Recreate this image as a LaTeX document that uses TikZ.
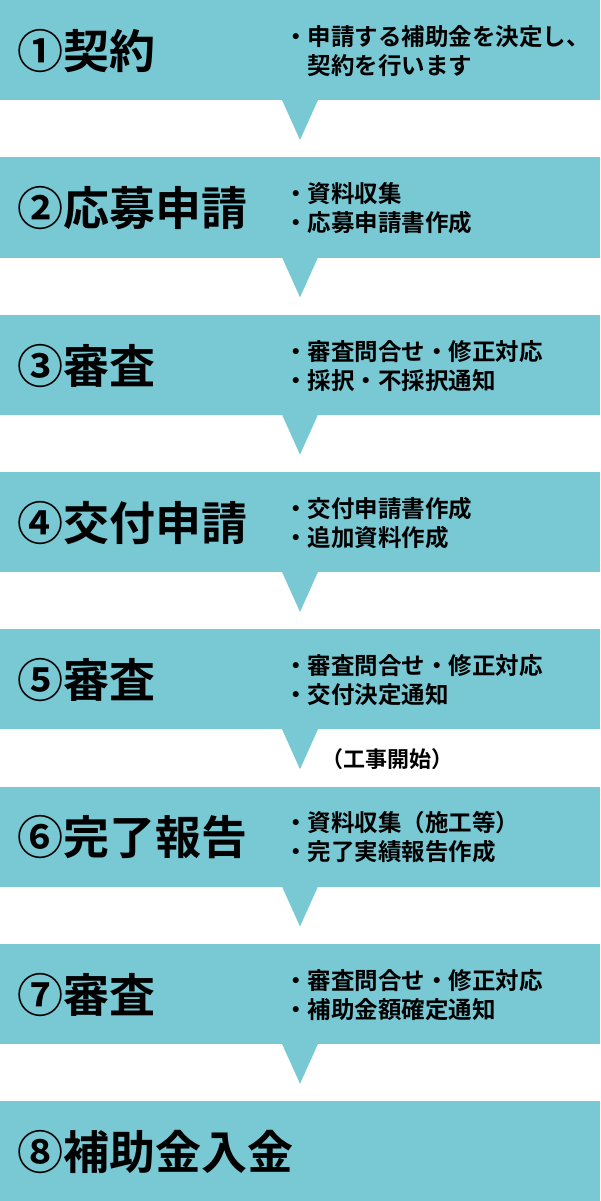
\documentclass[tikz,border=0pt]{standalone}
\usepackage{fontspec}
\setmainfont{Noto Sans CJK JP}[BoldFont=* Bold]
\usetikzlibrary{positioning}
\definecolor{bandblue}{RGB}{121,201,212}

\begin{document}
\begin{tikzpicture}[x=1pt, y=-1pt,
                band/.style={fill=bandblue, draw=none, minimum width=600pt, minimum height=100pt, inner sep=0pt, anchor=north west},
                title/.style={anchor=west, font=\fontsize{46}{48}\selectfont\bfseries},
                notes/.style={anchor=west, align=left, font=\fontsize{23.5}{29}\selectfont\bfseries, inner sep=0pt}
                ]
                \useasboundingbox (0,0) rectangle (600,1201);

                %% Bands
                \foreach \i/\ttl/\txt in {
                    1/①契約/{・申請する補助金を決定し、\\\hspace{1em}契約を行います},
                    2/②応募申請/{・資料収集\\・応募申請書作成},
                    3/③審査/{・審査問合せ・修正対応\\・採択・不採択通知},
                    4/④交付申請/{・交付申請書作成\\・追加資料作成},
                    5/⑤審査/{・審査問合せ・修正対応\\・交付決定通知},
                    6/⑥完了報告/{・資料収集（施工等）\\・完了実績報告作成},
                    7/⑦審査/{・審査問合せ・修正対応\\・補助金額確定通知},
                    8/⑧補助金入金/{}} {
                    \pgfmathsetmacro{\bandtop}{(\i-1)*157.3}
                    \node[band] (band\i) at (0,\bandtop) {};
                    \node[title] (title\i) at (14,\bandtop+51) {\ttl};
                    \node[notes] (notes\i) at (284,\bandtop+51) {\txt};
                }

                        % Pointers
                        \foreach \i in {1,...,7} {
                            \pgfmathsetmacro{\bandbot}{(\i-1)*157.3+100}
                            \fill[bandblue] (282,\bandbot) -- (318,\bandbot) -- (300,\bandbot+40) -- cycle;
                        }

                \node[font=\fontsize{22}{24}\selectfont\bfseries] (start) at (387,759) {（工事開始）};
\end{tikzpicture}
\end{document}
